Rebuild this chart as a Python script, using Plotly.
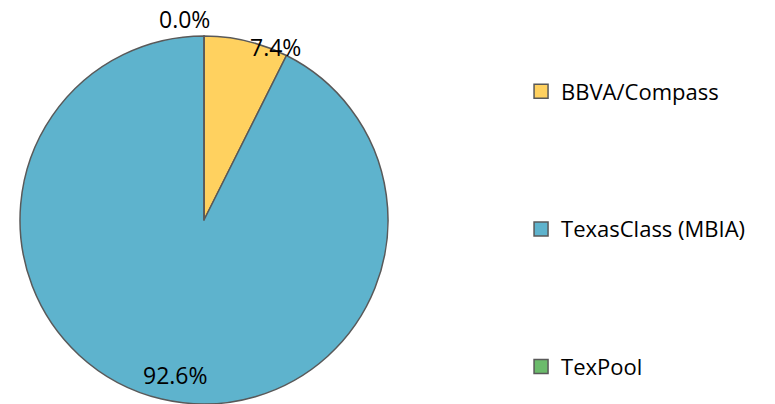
import plotly.graph_objects as go
import math

categories = ["BBVA/Compass", "TexasClass (MBIA)", "TexPool"]
values = [7.4, 92.6, 0.0]
colors = ["#FFD15F", "#5EB3CD", "#6BBB6B"]

W, H = 775, 404
fig = go.Figure()

# pie geometry (pixels), compensating plotly's offset
R = 184
CX, CY = 204, 220
off = 8
dom_x = [(CX - off - R) / W, (CX - off + R) / W]
dom_y = [(H - (CY - off) - R) / H, (H - (CY - off) + R) / H]
fig.add_trace(go.Pie(
    labels=categories, values=values, sort=False, direction="clockwise", rotation=0,
    marker=dict(colors=colors, line=dict(color="#595959", width=1.5)),
    textinfo="none", showlegend=False, hoverinfo="label+percent",
    domain=dict(x=dom_x, y=dom_y),
))

# percentage labels at each slice's mid-angle
label_style = [(0.97, "left", -5), (0.86, "center", 0), (1.10, "right", 0)]
total = sum(values)
cum = 0
for v, (rf, anchor, xs) in zip(values, label_style):
    mid = (cum + v / 2) / total * 2 * math.pi
    cum += v
    px = CX + rf * R * math.sin(mid)
    py = CY - rf * R * math.cos(mid)
    fig.add_annotation(x=px / W, y=1 - py / H, xref="paper", yref="paper",
                       xanchor=anchor, yanchor="middle", xshift=xs, yshift=7,
                       text=f"{v / total * 100:.1f}%", showarrow=False,
                       font=dict(size=23, color="#000000", family="Open Sans"))

# legend entries
for c, col in zip(categories, colors):
    fig.add_trace(go.Scatter(x=[None], y=[None], mode="markers", name=c,
                             legendgroup=c,
                             marker=dict(symbol="square", size=14, color=col,
                                         line=dict(color="#595959", width=1.5))))

fig.update_layout(
    width=W, height=H, margin=dict(l=0, r=0, t=0, b=0),
    paper_bgcolor="white", plot_bgcolor="white",
    xaxis=dict(visible=False), yaxis=dict(visible=False),
    legend=dict(x=0.662, y=1 - 221 / H, xanchor="left", yanchor="middle",
                font=dict(size=22, family="Open Sans", color="#000000"),
                tracegroupgap=106, itemwidth=30),
)
fig.write_html("out.html")
